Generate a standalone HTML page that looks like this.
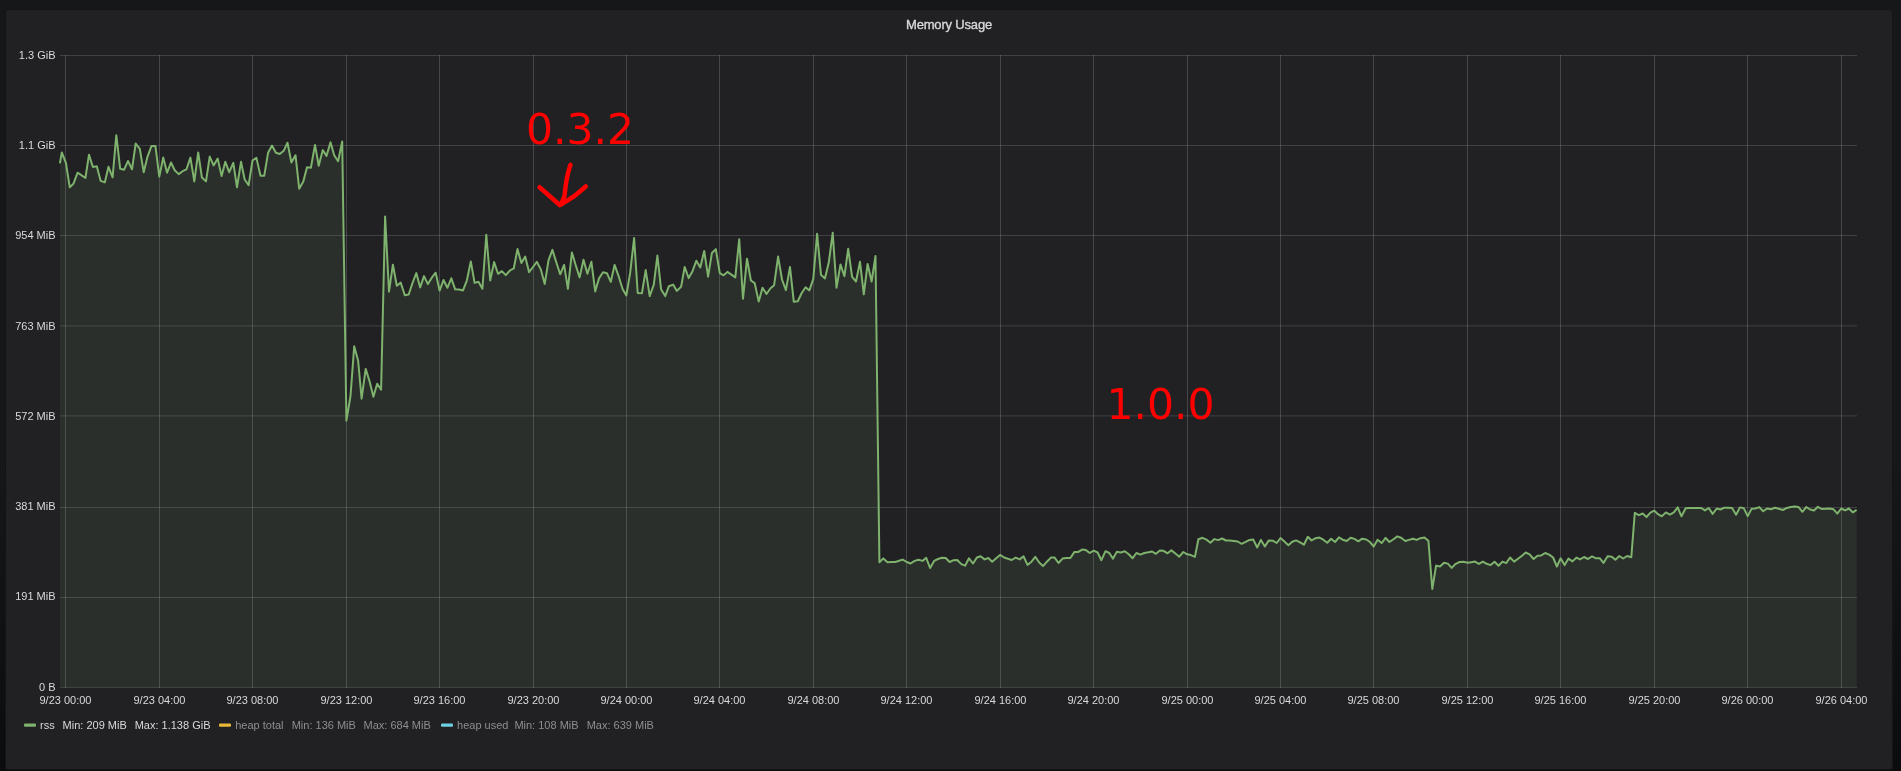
<!DOCTYPE html>
<html><head><meta charset="utf-8"><title>Memory Usage</title>
<style>
html,body{margin:0;padding:0;}
body{width:1901px;height:771px;overflow:hidden;background:linear-gradient(180deg,#161719 0px,#161719 460px,#0b0c0e 771px);position:relative;font-family:"Liberation Sans",Arial,sans-serif;}
.panel{position:absolute;left:5px;top:9px;width:1886px;height:759px;background:#212124;border:1px solid #141414;border-radius:3px;}
svg{position:absolute;left:0;top:0;will-change:transform;}
.t{font-size:11px;fill:#d8d9da;}
</style></head>
<body>
<div class="panel"></div>
<svg width="1901" height="771" viewBox="0 0 1901 771">
<text x="949" y="29" text-anchor="middle" style="font-size:13px;font-weight:normal;fill:#d8d9da;stroke:#d8d9da;stroke-width:0.35px;letter-spacing:-0.18px">Memory Usage</text>
<path d="M65.5,55 V688 M159.5,55 V688 M252.5,55 V688 M346.5,55 V688 M439.5,55 V688 M533.5,55 V688 M626.5,55 V688 M719.5,55 V688 M813.5,55 V688 M906.5,55 V688 M1000.5,55 V688 M1093.5,55 V688 M1187.5,55 V688 M1280.5,55 V688 M1373.5,55 V688 M1467.5,55 V688 M1560.5,55 V688 M1654.5,55 V688 M1747.5,55 V688 M1841.5,55 V688" stroke="rgba(255,255,255,0.17)" stroke-width="1" fill="none"/>
<path d="M60,55.5 H1857 M60,145.5 H1857 M60,235.5 H1857 M60,325.9 H1857 M60,415.9 H1857 M60,507.5 H1857 M60,597.5 H1857 M60,687.5 H1857" stroke="rgba(255,255,255,0.145)" stroke-width="1" fill="none"/>
<path d="M59.9,687 L59.9,163.4 L61.8,152.4 L65.9,162.9 L69.8,187.3 L73.5,183.6 L77.6,172.7 L81.3,175.1 L85.4,178 L89,154.7 L92.9,167 L96.8,166.3 L100.7,180.9 L104.8,182.4 L108.5,166.8 L112.6,177.3 L116.3,135.2 L120.2,168.8 L124.1,169.7 L128,161 L132,169.3 L135.7,143.5 L139.8,148.8 L143.7,172.2 L147.4,157.1 L151.5,145.9 L155.4,145.9 L159.3,176.6 L163.2,157.6 L167.1,172.7 L171,162.5 L174.7,170.2 L178.7,174.1 L182.6,171.2 L186.5,169.3 L190.4,157.6 L194.3,181.4 L198.2,152.4 L201.9,177.5 L206,181.4 L209.7,156.6 L213.6,165.4 L217.7,158.6 L221.6,176.1 L225.3,161.8 L229.2,172.2 L233.3,162.9 L237,187.3 L241,161.8 L244.7,179.5 L248.6,185.1 L252.5,160.5 L256.4,157.9 L260.5,175.8 L264.2,175.8 L268.1,152.7 L272,145.6 L275.9,152.7 L279.8,154 L283.7,150.8 L287.5,142.7 L291.4,162.5 L295.5,155.2 L299.2,188.7 L303.3,181.4 L307,167.3 L310.9,167.8 L315,144.9 L318.7,165.7 L322.8,150.1 L326.5,155.9 L330.5,142.3 L334.2,155.2 L338.1,161.2 L342.2,141.5 L346.4,420.7 L350.5,396 L354.2,346.2 L358.1,360.5 L361.6,398.7 L365.7,368.9 L369.7,381.8 L373.4,396.7 L377.2,383.8 L381.1,389.6 L385.1,216.4 L389,291.7 L392.9,264.7 L396.8,285.7 L400.7,282.6 L404.8,295.2 L408.7,294.5 L412.5,283 L416.3,273.1 L420.2,287.4 L424,276.1 L427.9,284.1 L431.8,277.7 L435.7,272.7 L439.6,290.6 L443.5,280 L447.4,287.8 L451.3,278.3 L455.2,289.3 L459.1,289.6 L463,290.4 L466.9,280.3 L470.8,261.4 L474.6,282.9 L478.5,281.8 L482.4,288.7 L486.3,234.8 L490.2,280.5 L494.1,262.1 L498,273.8 L501.9,271.2 L505.8,275.1 L509.9,270.5 L513.8,268.3 L517.5,249.1 L521.4,263.1 L525.2,256.6 L529.1,272.2 L533,267 L536.8,261.8 L540.7,269.1 L544.7,284.1 L548.5,260.3 L552.4,249.9 L556.3,262.3 L560.2,274.3 L564.1,264.9 L567.9,288.8 L571.9,252.5 L575.8,265.5 L579.6,277.4 L583.5,259.8 L587.4,273.8 L591.4,261.8 L595.2,291.4 L599,278.4 L603,272.2 L606.9,273.2 L610.8,281.8 L614.6,264.9 L618.5,275.8 L622.5,288.8 L626.3,295.5 L630.2,272.7 L634.1,238 L637.7,293 L641.9,293.3 L645.7,270.1 L649.7,296.1 L653.8,284.6 L657.4,255.6 L661.1,289.3 L665.2,296.1 L668.9,286.2 L673.1,284.6 L676.9,290.9 L681.1,286.7 L684.7,267 L688.7,278.1 L692.5,271.2 L696.3,260.8 L700.3,267.5 L704.2,250.9 L708.1,276.7 L711.9,253 L715.8,249.1 L719.8,273.2 L723.6,275.3 L727.4,271.9 L731.4,274.6 L735.3,277.4 L739.2,239.3 L743,298.7 L747,258.7 L750.9,280.5 L754.7,283.1 L758.7,301.6 L762.5,287.8 L766.5,294 L770.3,288.5 L774.1,285.2 L778.1,256.6 L782,279.5 L785.9,290.1 L790,267 L793.8,301.8 L797.8,301.2 L801.7,293 L805.6,287.2 L809.4,290.4 L813.3,278.9 L817.1,233.8 L821,274.8 L824.9,278.4 L828.8,262.3 L832.7,232.8 L836.5,287.8 L840.5,264.4 L844.4,276.3 L848.2,248.7 L852.1,276.9 L856,281.5 L860,261.8 L863.8,294.3 L867.6,263.9 L871.6,281.5 L875.5,255.9 L879.4,562.2 L883.3,558.4 L887.5,562.2 L891.4,562 L895.4,562 L899.1,560.8 L902.7,559.6 L906.7,562 L910.6,563.5 L914.6,560.9 L918.5,559.8 L922.5,560.9 L926.2,557.8 L930.1,568 L934.1,560.9 L938,559 L942,557.8 L945.7,558 L949.6,562 L953.6,560.2 L957.3,560 L961.3,564.1 L965.1,565.7 L969,558.3 L973,563.5 L976.9,557.5 L980.6,556.2 L984.6,559.4 L988.3,558 L992.2,561.7 L996.2,558.3 L1000.1,554.9 L1004.1,557.5 L1007.9,558.8 L1011.7,560 L1015.7,557.6 L1019.6,559.4 L1023.6,556.4 L1027.5,564.9 L1031.5,561.7 L1035.3,556.8 L1039.2,562.5 L1043,566.1 L1046.9,561.7 L1050.9,557.6 L1054.6,557.6 L1058.5,563 L1062.5,558.6 L1066.4,558 L1070.4,558 L1074.3,552.1 L1078,552.1 L1082,549.6 L1085.9,550.1 L1089.7,553 L1093.7,550.7 L1097.6,552.5 L1101.4,560.2 L1105.5,551.2 L1109.3,553 L1113,558.6 L1116.9,551.7 L1120.9,552.5 L1124.8,551.3 L1128.8,554.3 L1132.5,558.3 L1136.4,553 L1140.4,554.6 L1144.3,553 L1148.3,552.3 L1152.1,551.5 L1155.9,553.8 L1159.9,550.4 L1163.7,550.8 L1167.5,553.3 L1171.4,550.4 L1175.4,553.5 L1179.3,556.7 L1183.3,552 L1187.2,554.3 L1190.9,555.1 L1194.9,556.9 L1198.4,539.3 L1202.5,537.8 L1206.5,539.6 L1210.4,542.7 L1214.4,539.1 L1218.1,540.1 L1222.1,538.5 L1226,540.5 L1229.8,540.5 L1233.8,540.9 L1237.7,541.5 L1241.7,543.8 L1245.6,541.9 L1249.6,539.9 L1253.3,539.6 L1257.2,547.5 L1260.9,539.9 L1264.9,546.4 L1268.8,540.4 L1272.8,540.7 L1276.7,543 L1280.5,538 L1284.4,541.5 L1288.4,545.3 L1292.2,541.7 L1296.1,540.4 L1300.1,542.3 L1303.9,544.7 L1307.8,536.8 L1311.6,540.5 L1315.6,538.2 L1319.5,537.6 L1323.3,539.7 L1327.2,542.8 L1331.1,538.7 L1335.1,542 L1338.9,537.4 L1342.7,539.7 L1346.7,541 L1350.6,537.8 L1354.5,538.9 L1358.3,541.3 L1362.2,538.7 L1366.2,539.5 L1370,542 L1373.7,546.5 L1377.6,539.7 L1381.7,543 L1385.6,537.8 L1389.4,542 L1393.4,539.2 L1397.3,536.4 L1401.1,537.8 L1405.3,541 L1408.9,539.9 L1412.9,538.7 L1416.7,539.9 L1420.5,538.2 L1424.5,537.6 L1428.4,540.7 L1432.3,589 L1436.1,565.6 L1440,566.5 L1444,562.7 L1447.8,563.6 L1451.7,567.9 L1455.7,563.8 L1459.6,562 L1463.5,561.7 L1467.5,562.8 L1471.2,562.2 L1475,561.6 L1478.9,563.9 L1482.9,561.6 L1486.7,563.8 L1490.6,565.1 L1494.6,561.7 L1498.5,565.7 L1502.5,561.6 L1506.2,563.1 L1510.1,557.5 L1514.1,561.6 L1518,558.8 L1522,555.7 L1525.7,552.5 L1529.6,554.3 L1533.6,559 L1537.5,555.7 L1541.3,555.4 L1545.2,553 L1549.2,554.6 L1553.1,557.5 L1556.9,566.5 L1560.6,558.3 L1564.6,565.1 L1568.5,558.6 L1572.5,561.4 L1576.4,557.6 L1580.1,559.4 L1584.1,557 L1588,559 L1592,556.4 L1596,558.3 L1599.9,558.3 L1603.5,562.9 L1607.6,556.2 L1611.8,556.7 L1615.4,559.8 L1619.3,556 L1623.2,558.5 L1627.1,556 L1631.3,557.2 L1634.8,512.8 L1638.8,515.2 L1642.7,513.5 L1646.5,517 L1650.4,512.6 L1654.3,510.6 L1658,514.2 L1661.8,516.3 L1665.9,512.4 L1669.9,514.7 L1673.8,512.4 L1677.7,507.4 L1681.5,516.3 L1685.6,508.3 L1689.6,508 L1693.5,508 L1697.4,508 L1701.2,508 L1704.9,510.4 L1708.8,508 L1712.6,513.9 L1716.8,508.5 L1720.5,509.5 L1724.3,507.7 L1728.2,507.7 L1732.1,508 L1736.1,514.7 L1739.9,507.4 L1743.8,508.3 L1747.7,516.1 L1751.6,508.8 L1755.4,508.5 L1759.3,507.1 L1763.2,511.2 L1767.1,508.5 L1771.1,509.2 L1775,507.8 L1778.9,508.8 L1782.9,510 L1786.8,507.9 L1790.7,507.1 L1794.6,506.6 L1798.6,507.1 L1802.4,511.8 L1806.3,507 L1810.1,509.5 L1814,510.5 L1817.9,506.8 L1821.7,509 L1825.6,508.8 L1829.5,508.6 L1833.4,509.2 L1837.3,513.6 L1841.2,508.5 L1845.1,510.4 L1848.9,508.5 L1852.8,512.4 L1856.6,509.8 L1856.6,687 Z" fill="rgba(126,178,109,0.1)" stroke="none"/>
<path d="M59.9,163.4 L61.8,152.4 L65.9,162.9 L69.8,187.3 L73.5,183.6 L77.6,172.7 L81.3,175.1 L85.4,178 L89,154.7 L92.9,167 L96.8,166.3 L100.7,180.9 L104.8,182.4 L108.5,166.8 L112.6,177.3 L116.3,135.2 L120.2,168.8 L124.1,169.7 L128,161 L132,169.3 L135.7,143.5 L139.8,148.8 L143.7,172.2 L147.4,157.1 L151.5,145.9 L155.4,145.9 L159.3,176.6 L163.2,157.6 L167.1,172.7 L171,162.5 L174.7,170.2 L178.7,174.1 L182.6,171.2 L186.5,169.3 L190.4,157.6 L194.3,181.4 L198.2,152.4 L201.9,177.5 L206,181.4 L209.7,156.6 L213.6,165.4 L217.7,158.6 L221.6,176.1 L225.3,161.8 L229.2,172.2 L233.3,162.9 L237,187.3 L241,161.8 L244.7,179.5 L248.6,185.1 L252.5,160.5 L256.4,157.9 L260.5,175.8 L264.2,175.8 L268.1,152.7 L272,145.6 L275.9,152.7 L279.8,154 L283.7,150.8 L287.5,142.7 L291.4,162.5 L295.5,155.2 L299.2,188.7 L303.3,181.4 L307,167.3 L310.9,167.8 L315,144.9 L318.7,165.7 L322.8,150.1 L326.5,155.9 L330.5,142.3 L334.2,155.2 L338.1,161.2 L342.2,141.5 L346.4,420.7 L350.5,396 L354.2,346.2 L358.1,360.5 L361.6,398.7 L365.7,368.9 L369.7,381.8 L373.4,396.7 L377.2,383.8 L381.1,389.6 L385.1,216.4 L389,291.7 L392.9,264.7 L396.8,285.7 L400.7,282.6 L404.8,295.2 L408.7,294.5 L412.5,283 L416.3,273.1 L420.2,287.4 L424,276.1 L427.9,284.1 L431.8,277.7 L435.7,272.7 L439.6,290.6 L443.5,280 L447.4,287.8 L451.3,278.3 L455.2,289.3 L459.1,289.6 L463,290.4 L466.9,280.3 L470.8,261.4 L474.6,282.9 L478.5,281.8 L482.4,288.7 L486.3,234.8 L490.2,280.5 L494.1,262.1 L498,273.8 L501.9,271.2 L505.8,275.1 L509.9,270.5 L513.8,268.3 L517.5,249.1 L521.4,263.1 L525.2,256.6 L529.1,272.2 L533,267 L536.8,261.8 L540.7,269.1 L544.7,284.1 L548.5,260.3 L552.4,249.9 L556.3,262.3 L560.2,274.3 L564.1,264.9 L567.9,288.8 L571.9,252.5 L575.8,265.5 L579.6,277.4 L583.5,259.8 L587.4,273.8 L591.4,261.8 L595.2,291.4 L599,278.4 L603,272.2 L606.9,273.2 L610.8,281.8 L614.6,264.9 L618.5,275.8 L622.5,288.8 L626.3,295.5 L630.2,272.7 L634.1,238 L637.7,293 L641.9,293.3 L645.7,270.1 L649.7,296.1 L653.8,284.6 L657.4,255.6 L661.1,289.3 L665.2,296.1 L668.9,286.2 L673.1,284.6 L676.9,290.9 L681.1,286.7 L684.7,267 L688.7,278.1 L692.5,271.2 L696.3,260.8 L700.3,267.5 L704.2,250.9 L708.1,276.7 L711.9,253 L715.8,249.1 L719.8,273.2 L723.6,275.3 L727.4,271.9 L731.4,274.6 L735.3,277.4 L739.2,239.3 L743,298.7 L747,258.7 L750.9,280.5 L754.7,283.1 L758.7,301.6 L762.5,287.8 L766.5,294 L770.3,288.5 L774.1,285.2 L778.1,256.6 L782,279.5 L785.9,290.1 L790,267 L793.8,301.8 L797.8,301.2 L801.7,293 L805.6,287.2 L809.4,290.4 L813.3,278.9 L817.1,233.8 L821,274.8 L824.9,278.4 L828.8,262.3 L832.7,232.8 L836.5,287.8 L840.5,264.4 L844.4,276.3 L848.2,248.7 L852.1,276.9 L856,281.5 L860,261.8 L863.8,294.3 L867.6,263.9 L871.6,281.5 L875.5,255.9 L879.4,562.2 L883.3,558.4 L887.5,562.2 L891.4,562 L895.4,562 L899.1,560.8 L902.7,559.6 L906.7,562 L910.6,563.5 L914.6,560.9 L918.5,559.8 L922.5,560.9 L926.2,557.8 L930.1,568 L934.1,560.9 L938,559 L942,557.8 L945.7,558 L949.6,562 L953.6,560.2 L957.3,560 L961.3,564.1 L965.1,565.7 L969,558.3 L973,563.5 L976.9,557.5 L980.6,556.2 L984.6,559.4 L988.3,558 L992.2,561.7 L996.2,558.3 L1000.1,554.9 L1004.1,557.5 L1007.9,558.8 L1011.7,560 L1015.7,557.6 L1019.6,559.4 L1023.6,556.4 L1027.5,564.9 L1031.5,561.7 L1035.3,556.8 L1039.2,562.5 L1043,566.1 L1046.9,561.7 L1050.9,557.6 L1054.6,557.6 L1058.5,563 L1062.5,558.6 L1066.4,558 L1070.4,558 L1074.3,552.1 L1078,552.1 L1082,549.6 L1085.9,550.1 L1089.7,553 L1093.7,550.7 L1097.6,552.5 L1101.4,560.2 L1105.5,551.2 L1109.3,553 L1113,558.6 L1116.9,551.7 L1120.9,552.5 L1124.8,551.3 L1128.8,554.3 L1132.5,558.3 L1136.4,553 L1140.4,554.6 L1144.3,553 L1148.3,552.3 L1152.1,551.5 L1155.9,553.8 L1159.9,550.4 L1163.7,550.8 L1167.5,553.3 L1171.4,550.4 L1175.4,553.5 L1179.3,556.7 L1183.3,552 L1187.2,554.3 L1190.9,555.1 L1194.9,556.9 L1198.4,539.3 L1202.5,537.8 L1206.5,539.6 L1210.4,542.7 L1214.4,539.1 L1218.1,540.1 L1222.1,538.5 L1226,540.5 L1229.8,540.5 L1233.8,540.9 L1237.7,541.5 L1241.7,543.8 L1245.6,541.9 L1249.6,539.9 L1253.3,539.6 L1257.2,547.5 L1260.9,539.9 L1264.9,546.4 L1268.8,540.4 L1272.8,540.7 L1276.7,543 L1280.5,538 L1284.4,541.5 L1288.4,545.3 L1292.2,541.7 L1296.1,540.4 L1300.1,542.3 L1303.9,544.7 L1307.8,536.8 L1311.6,540.5 L1315.6,538.2 L1319.5,537.6 L1323.3,539.7 L1327.2,542.8 L1331.1,538.7 L1335.1,542 L1338.9,537.4 L1342.7,539.7 L1346.7,541 L1350.6,537.8 L1354.5,538.9 L1358.3,541.3 L1362.2,538.7 L1366.2,539.5 L1370,542 L1373.7,546.5 L1377.6,539.7 L1381.7,543 L1385.6,537.8 L1389.4,542 L1393.4,539.2 L1397.3,536.4 L1401.1,537.8 L1405.3,541 L1408.9,539.9 L1412.9,538.7 L1416.7,539.9 L1420.5,538.2 L1424.5,537.6 L1428.4,540.7 L1432.3,589 L1436.1,565.6 L1440,566.5 L1444,562.7 L1447.8,563.6 L1451.7,567.9 L1455.7,563.8 L1459.6,562 L1463.5,561.7 L1467.5,562.8 L1471.2,562.2 L1475,561.6 L1478.9,563.9 L1482.9,561.6 L1486.7,563.8 L1490.6,565.1 L1494.6,561.7 L1498.5,565.7 L1502.5,561.6 L1506.2,563.1 L1510.1,557.5 L1514.1,561.6 L1518,558.8 L1522,555.7 L1525.7,552.5 L1529.6,554.3 L1533.6,559 L1537.5,555.7 L1541.3,555.4 L1545.2,553 L1549.2,554.6 L1553.1,557.5 L1556.9,566.5 L1560.6,558.3 L1564.6,565.1 L1568.5,558.6 L1572.5,561.4 L1576.4,557.6 L1580.1,559.4 L1584.1,557 L1588,559 L1592,556.4 L1596,558.3 L1599.9,558.3 L1603.5,562.9 L1607.6,556.2 L1611.8,556.7 L1615.4,559.8 L1619.3,556 L1623.2,558.5 L1627.1,556 L1631.3,557.2 L1634.8,512.8 L1638.8,515.2 L1642.7,513.5 L1646.5,517 L1650.4,512.6 L1654.3,510.6 L1658,514.2 L1661.8,516.3 L1665.9,512.4 L1669.9,514.7 L1673.8,512.4 L1677.7,507.4 L1681.5,516.3 L1685.6,508.3 L1689.6,508 L1693.5,508 L1697.4,508 L1701.2,508 L1704.9,510.4 L1708.8,508 L1712.6,513.9 L1716.8,508.5 L1720.5,509.5 L1724.3,507.7 L1728.2,507.7 L1732.1,508 L1736.1,514.7 L1739.9,507.4 L1743.8,508.3 L1747.7,516.1 L1751.6,508.8 L1755.4,508.5 L1759.3,507.1 L1763.2,511.2 L1767.1,508.5 L1771.1,509.2 L1775,507.8 L1778.9,508.8 L1782.9,510 L1786.8,507.9 L1790.7,507.1 L1794.6,506.6 L1798.6,507.1 L1802.4,511.8 L1806.3,507 L1810.1,509.5 L1814,510.5 L1817.9,506.8 L1821.7,509 L1825.6,508.8 L1829.5,508.6 L1833.4,509.2 L1837.3,513.6 L1841.2,508.5 L1845.1,510.4 L1848.9,508.5 L1852.8,512.4 L1856.6,509.8" stroke="#7eb26d" stroke-width="2" fill="none" stroke-linejoin="round"/>
<g class="t">
<text x="55.5" y="59" text-anchor="end">1.3 GiB</text>
<text x="55.5" y="149" text-anchor="end">1.1 GiB</text>
<text x="55.5" y="239" text-anchor="end">954 MiB</text>
<text x="55.5" y="330" text-anchor="end">763 MiB</text>
<text x="55.5" y="420" text-anchor="end">572 MiB</text>
<text x="55.5" y="510" text-anchor="end">381 MiB</text>
<text x="55.5" y="600" text-anchor="end">191 MiB</text>
<text x="55.5" y="691" text-anchor="end">0 B</text>
<text x="65.5" y="704" text-anchor="middle">9/23 00:00</text>
<text x="159.5" y="704" text-anchor="middle">9/23 04:00</text>
<text x="252.5" y="704" text-anchor="middle">9/23 08:00</text>
<text x="346.5" y="704" text-anchor="middle">9/23 12:00</text>
<text x="439.5" y="704" text-anchor="middle">9/23 16:00</text>
<text x="533.5" y="704" text-anchor="middle">9/23 20:00</text>
<text x="626.5" y="704" text-anchor="middle">9/24 00:00</text>
<text x="719.5" y="704" text-anchor="middle">9/24 04:00</text>
<text x="813.5" y="704" text-anchor="middle">9/24 08:00</text>
<text x="906.5" y="704" text-anchor="middle">9/24 12:00</text>
<text x="1000.5" y="704" text-anchor="middle">9/24 16:00</text>
<text x="1093.5" y="704" text-anchor="middle">9/24 20:00</text>
<text x="1187.5" y="704" text-anchor="middle">9/25 00:00</text>
<text x="1280.5" y="704" text-anchor="middle">9/25 04:00</text>
<text x="1373.5" y="704" text-anchor="middle">9/25 08:00</text>
<text x="1467.5" y="704" text-anchor="middle">9/25 12:00</text>
<text x="1560.5" y="704" text-anchor="middle">9/25 16:00</text>
<text x="1654.5" y="704" text-anchor="middle">9/25 20:00</text>
<text x="1747.5" y="704" text-anchor="middle">9/26 00:00</text>
<text x="1841.5" y="704" text-anchor="middle">9/26 04:00</text>
</g>
<g style="font-size:11px">
<rect x="24" y="723.6" width="12" height="3.2" fill="#7eb26d" rx="1"/>
<text x="40" y="729" fill="#d8d9da">rss</text>
<text x="62.6" y="729" fill="#d8d9da">Min: 209 MiB</text>
<text x="134.7" y="729" fill="#d8d9da">Max: 1.138 GiB</text>
<g>
<rect x="219" y="723.6" width="12" height="3.2" fill="#eab839" rx="1"/>
<g fill="#8e8e8e">
<text x="235.2" y="729">heap total</text>
<text x="291.7" y="729">Min: 136 MiB</text>
<text x="363.5" y="729">Max: 684 MiB</text>
</g>
<rect x="441" y="723.6" width="12" height="3.2" fill="#6ed0e0" rx="1"/>
<g fill="#8e8e8e">
<text x="457.1" y="729">heap used</text>
<text x="514.4" y="729">Min: 108 MiB</text>
<text x="586.7" y="729">Max: 639 MiB</text>
</g>
</g>
</g>
<g style="font-family:'DejaVu Sans','Liberation Sans',sans-serif;font-size:42.5px" fill="#ff0000">
<text x="526" y="144">0.3.2</text>
<text x="1106.4" y="419">1.0.0</text>
</g>
<path d="M570.5,164.8 C567.5,173 565.5,185 564.5,196 L561,204.5 M539.6,187.2 L560,205.2 L574.5,196 L585.8,186.5" stroke="#ff0000" stroke-width="4.5" fill="none" stroke-linecap="round" stroke-linejoin="round"/>
</svg>
</body></html>
